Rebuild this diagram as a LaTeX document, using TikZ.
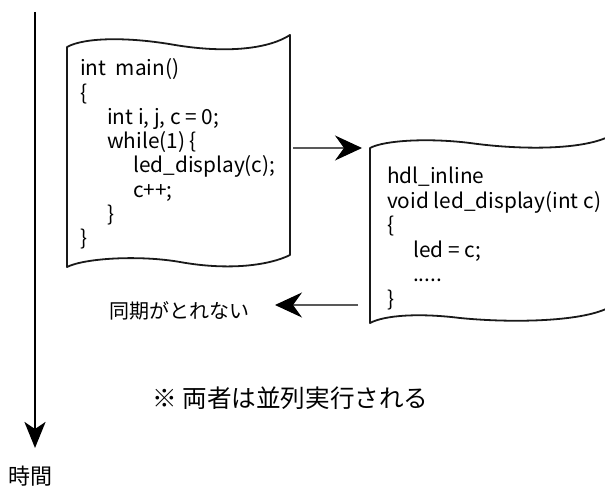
\documentclass[tikz,border=0pt]{standalone}
\usepackage{fontspec}
\setmainfont{Noto Sans CJK JP}
\usetikzlibrary{arrows.meta}
\begin{document}
\begin{tikzpicture}[x=1pt,y=-1pt,
  doc/.style={line width=1.8pt, draw=black!90, line join=round, fill=white},
  code/.style={anchor=base west, inner sep=0pt, font=\fontsize{20.8}{24}\selectfont},
  conn/.style={line width=1.1pt, draw=black!65, -{Stealth[length=27pt,width=25pt,inset=9pt,color=black]}},
  axis/.style={line width=2.6pt, draw=black, -{Stealth[length=26pt,width=21pt,inset=7pt]}},
  jp/.style={inner sep=0pt, font=\fontsize{20}{24}\selectfont},
  note/.style={inner sep=0pt, font=\fontsize{24.6}{28}\selectfont}
]
\useasboundingbox (0,0) rectangle (605,486);
% time axis
\coordinate (ax0) at (35,12);
\coordinate (ax1) at (35,448);
\draw[axis] (ax0) -- (ax1);
\node[font=\fontsize{22}{26}\selectfont, inner sep=0pt] (time) at (30.5,476) {時間};
% document 1
\draw[doc] (67,47) .. controls (85,37) and (130,37) .. (175,45)
  .. controls (230,54) and (270,48) .. (290,35) -- (290,255)
  .. controls (270,265) and (230,271) .. (180,262)
  .. controls (140,255) and (85,258) .. (67,267) -- cycle;
\node[code] (m1) at (80,76) {int\ \ main()};
\node[code] (m2) at (80,100.5) {\{};
\node[code] (m3) at (107,125) {int i, j, c = 0;};
\node[code] (m4) at (107,149) {while(1) \{};
\node[code] (m5) at (133,173) {led\_display(c);};
\node[code] (m6) at (133,197.5) {c++;};
\node[code] (m7) at (107,222) {\}};
\node[code] (m8) at (80,246) {\}};
% document 2
\draw[doc] (370,148) .. controls (385,140) and (430,138) .. (470,143)
  .. controls (520,150) and (580,150) .. (608,137) -- (608,308)
  .. controls (580,322) and (510,323) .. (460,318)
  .. controls (420,313) and (385,315) .. (370,323) -- cycle;
\node[code] (h1) at (387,184) {hdl\_inline};
\node[code] (h2) at (387,208.5) {void led\_display(int c)};
\node[code] (h3) at (387,233) {\{};
\node[code] (h4) at (413,258) {led = c;};
\node[code] (h5) at (413,282) {.....};
\node[code] (h6) at (387,306.5) {\}};
% connectors
\coordinate (a1s) at (293,148);
\coordinate (a1e) at (362,148);
\draw[conn] (a1s) -- (a1e);
\node[jp] (sync) at (179,311) {同期がとれない};
\coordinate (a2s) at (358,305);
\coordinate (a2e) at (275,305);
\draw[conn] (a2s) -- (a2e);
\node[note] (par) at (290.5,398) {※ 両者は並列実行される};
\end{tikzpicture}
\end{document}
